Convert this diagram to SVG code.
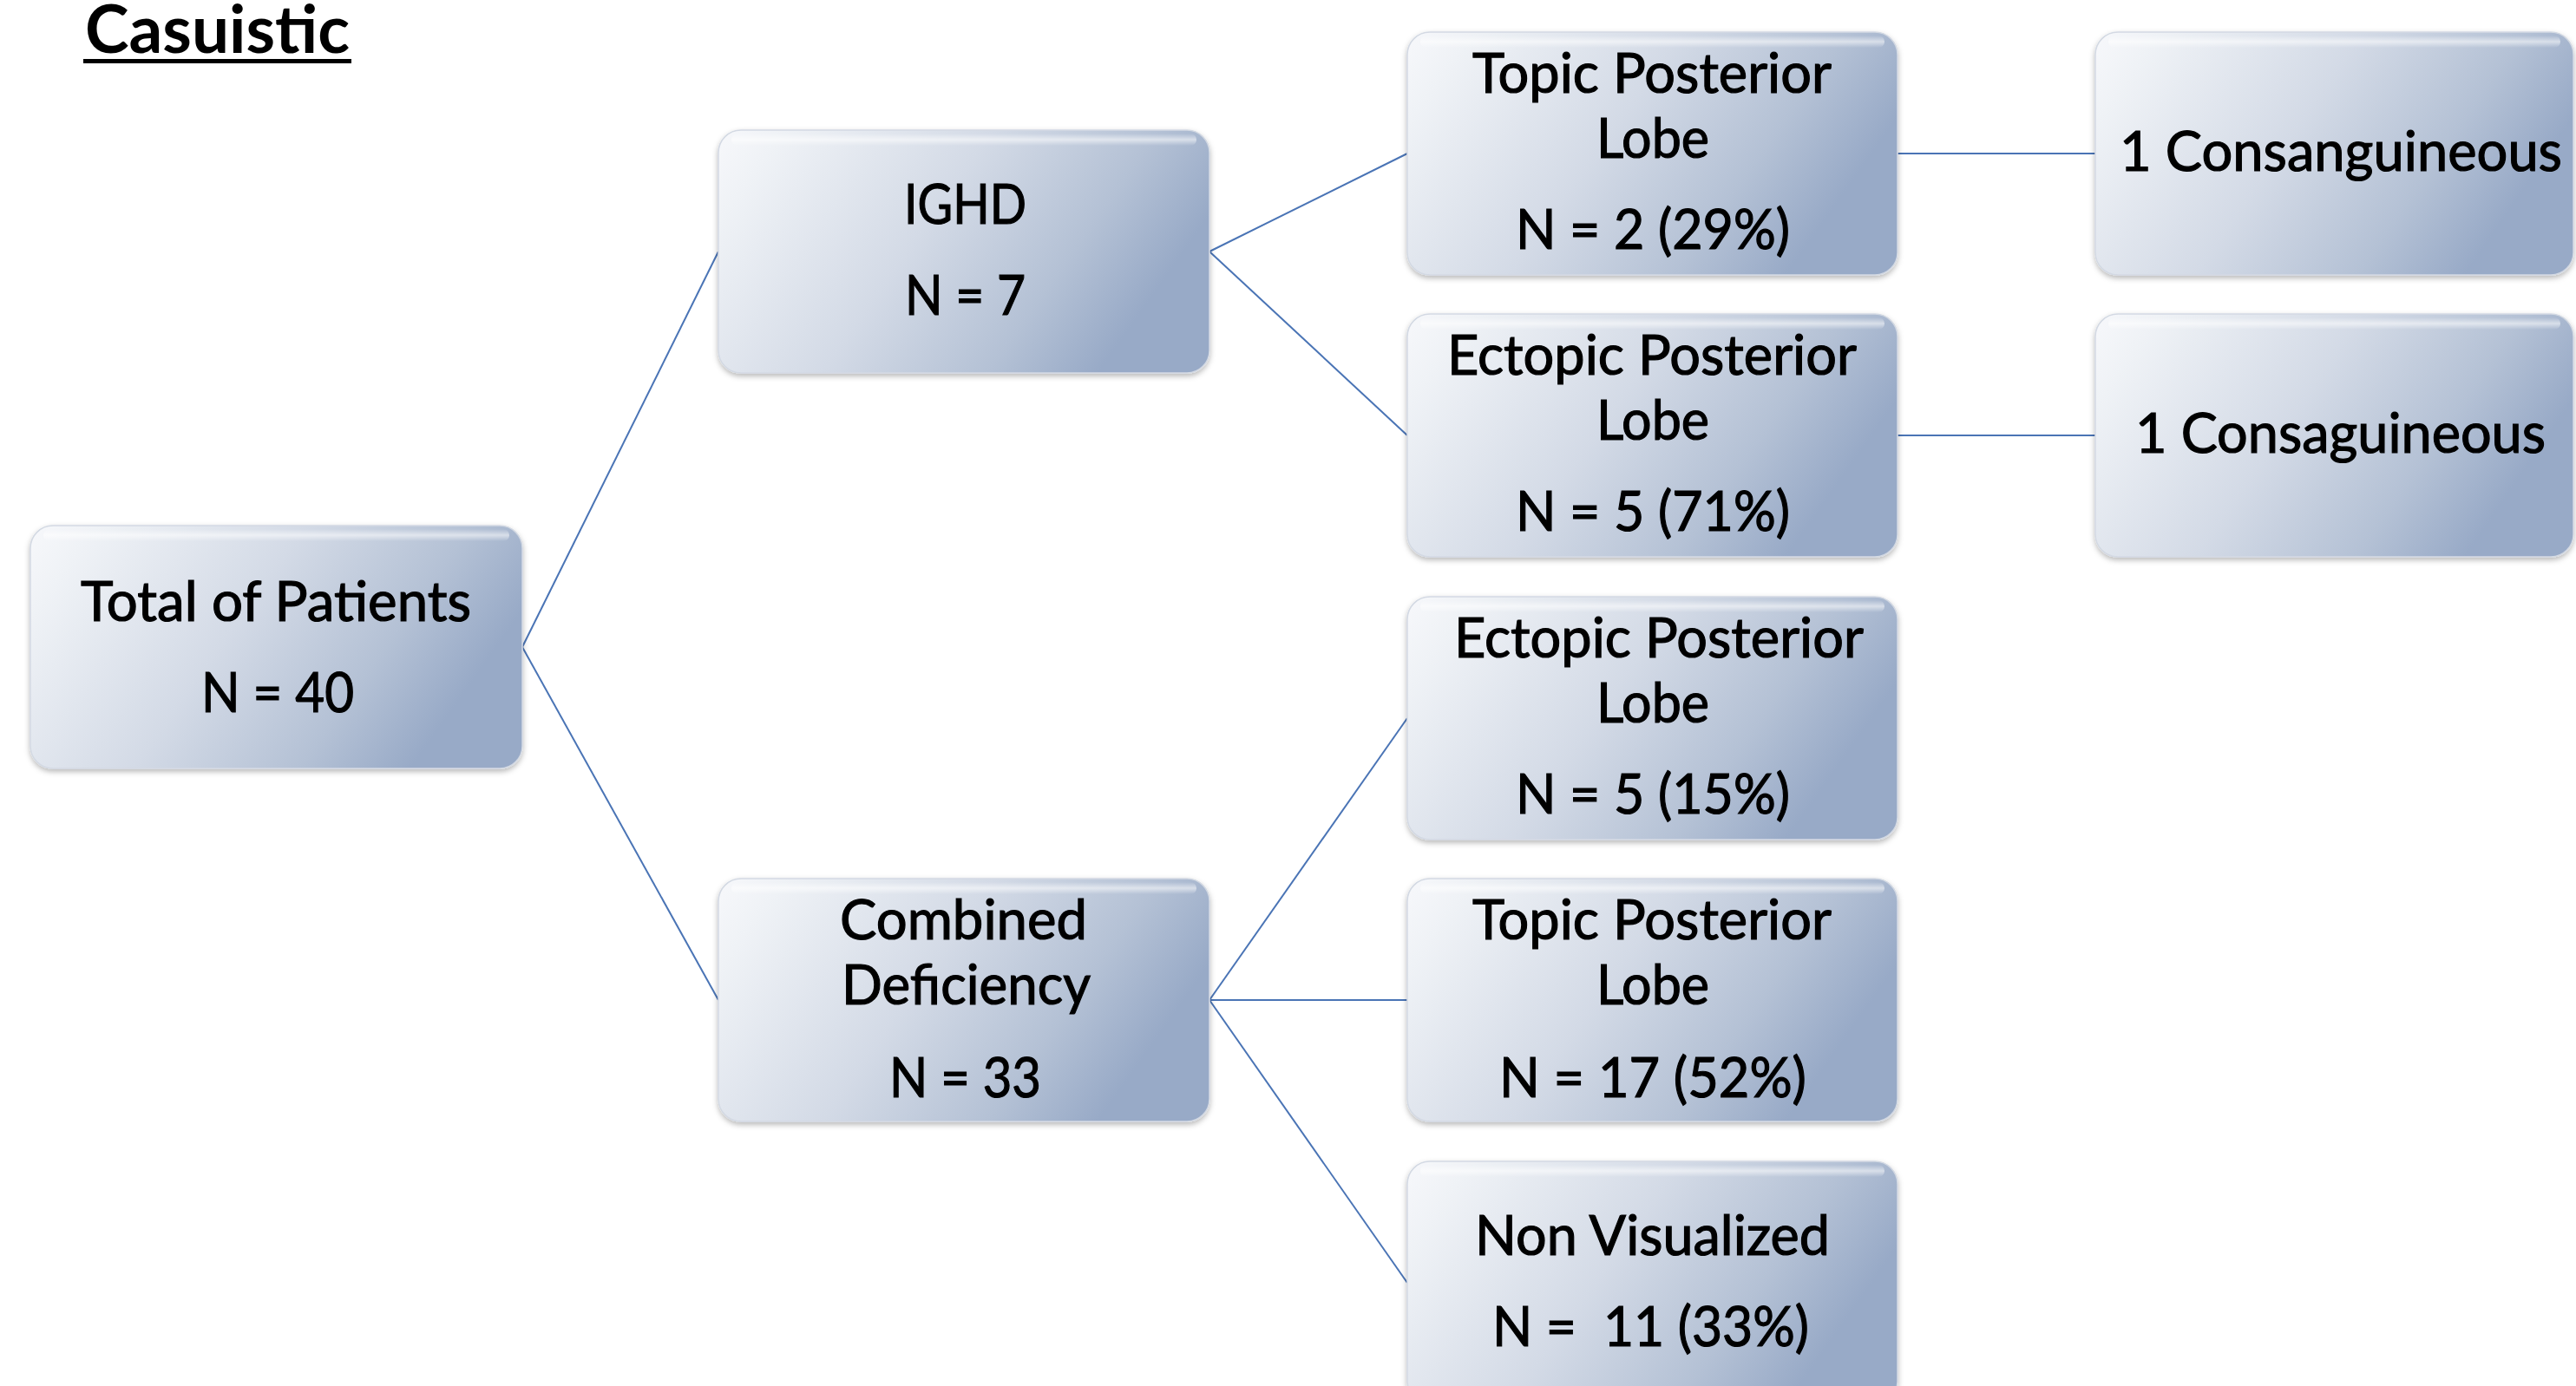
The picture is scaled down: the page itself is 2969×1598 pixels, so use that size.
<svg xmlns="http://www.w3.org/2000/svg" width="2969" height="1598" viewBox="0 0 2969 1598">
  <defs>
    <linearGradient id="boxfill" x1="0" y1="0" x2="1" y2="0.35">
      <stop offset="0" stop-color="#f7f8fb"/>
      <stop offset="0.12" stop-color="#eff2f6"/>
      <stop offset="0.5" stop-color="#d3dae6"/>
      <stop offset="0.8" stop-color="#b4c1d5"/>
      <stop offset="1" stop-color="#98aac7"/>
    </linearGradient>
    <linearGradient id="hl" x1="0" y1="0" x2="0" y2="1">
      <stop offset="0" stop-color="#ffffff" stop-opacity="0.0"/>
      <stop offset="0.5" stop-color="#ffffff" stop-opacity="0.55"/>
      <stop offset="1" stop-color="#ffffff" stop-opacity="0.0"/>
    </linearGradient>
    <filter id="shadow" x="-5%" y="-5%" width="110%" height="115%">
      <feDropShadow dx="0" dy="3" stdDeviation="3" flood-color="#000000" flood-opacity="0.28"/>
    </filter>
  </defs>
  <style>
    .box { fill: url(#boxfill); stroke: #d3d9e3; stroke-width: 1.5; filter: url(#shadow); }
    .hl { fill: url(#hl); }
    .t { font-family: Lato, "Liberation Sans", sans-serif; font-size: 64px; fill: #000000; stroke: #000000; stroke-width: 1.2px; }
    .title { font-family: Lato, "Liberation Sans", sans-serif; font-size: 76px; font-weight: bold; fill: #000000; }
    .conn line { stroke: #4a74b5; stroke-width: 2; fill: none; }
  </style>
  <rect x="0" y="0" width="2969" height="1598" fill="#ffffff"/>

  <g id="title">
    <text class="title" x="98" y="61" textLength="305" lengthAdjust="spacingAndGlyphs">Casuistic</text>
    <rect x="96" y="68" width="309" height="5" fill="#000000"/>
  </g>

  <g id="connectors" class="conn">
    <line x1="602" y1="746" x2="828" y2="290"/>
    <line x1="602" y1="746" x2="828" y2="1153"/>
    <line x1="1394" y1="290" x2="1622" y2="177"/>
    <line x1="1394" y1="290" x2="1622" y2="502"/>
    <line x1="1394" y1="1153" x2="1622" y2="828"/>
    <line x1="1394" y1="1153" x2="1622" y2="1153"/>
    <line x1="1394" y1="1153" x2="1622" y2="1479"/>
    <line x1="2187" y1="177" x2="2415" y2="177"/>
    <line x1="2187" y1="502" x2="2415" y2="502"/>
  </g>

  <g id="node-total">
    <rect class="box" x="35" y="606" width="567" height="280" rx="26"/>
    <rect class="hl" x="50" y="610" width="537" height="14" rx="7"/>
    <text class="t" x="93" y="716" textLength="450" lengthAdjust="spacingAndGlyphs">Total of Patients</text>
    <text class="t" x="232" y="821" textLength="176" lengthAdjust="spacingAndGlyphs">N = 40</text>
  </g>

  <g id="node-ighd">
    <rect class="box" x="828" y="150" width="566" height="280" rx="26"/>
    <rect class="hl" x="843" y="154" width="536" height="14" rx="7"/>
    <text class="t" x="1042" y="258" textLength="141" lengthAdjust="spacingAndGlyphs">IGHD</text>
    <text class="t" x="1043" y="363" textLength="139" lengthAdjust="spacingAndGlyphs">N = 7</text>
  </g>

  <g id="node-combined">
    <rect class="box" x="828" y="1013" width="566" height="280" rx="26"/>
    <rect class="hl" x="843" y="1017" width="536" height="14" rx="7"/>
    <text class="t" x="968" y="1083" textLength="285" lengthAdjust="spacingAndGlyphs">Combined</text>
    <text class="t" x="970" y="1158" textLength="287" lengthAdjust="spacingAndGlyphs">Deficiency</text>
    <text class="t" x="1025" y="1265" textLength="175" lengthAdjust="spacingAndGlyphs">N = 33</text>
  </g>

  <g id="node-topic1">
    <rect class="box" x="1622" y="37" width="565" height="280" rx="26"/>
    <rect class="hl" x="1637" y="41" width="535" height="14" rx="7"/>
    <text class="t" x="1697" y="107" textLength="414" lengthAdjust="spacingAndGlyphs">Topic Posterior</text>
    <text class="t" x="1840" y="182" textLength="130" lengthAdjust="spacingAndGlyphs">Lobe</text>
    <text class="t" x="1747" y="287" textLength="316" lengthAdjust="spacingAndGlyphs">N = 2 (29%)</text>
  </g>

  <g id="node-ectopic1">
    <rect class="box" x="1622" y="362" width="565" height="280" rx="26"/>
    <rect class="hl" x="1637" y="366" width="535" height="14" rx="7"/>
    <text class="t" x="1668" y="432" textLength="472" lengthAdjust="spacingAndGlyphs">Ectopic Posterior</text>
    <text class="t" x="1840" y="507" textLength="130" lengthAdjust="spacingAndGlyphs">Lobe</text>
    <text class="t" x="1747" y="612" textLength="316" lengthAdjust="spacingAndGlyphs">N = 5 (71%)</text>
  </g>

  <g id="node-ectopic2">
    <rect class="box" x="1622" y="688" width="565" height="280" rx="26"/>
    <rect class="hl" x="1637" y="692" width="535" height="14" rx="7"/>
    <text class="t" x="1676" y="758" textLength="472" lengthAdjust="spacingAndGlyphs">Ectopic Posterior</text>
    <text class="t" x="1840" y="833" textLength="130" lengthAdjust="spacingAndGlyphs">Lobe</text>
    <text class="t" x="1747" y="938" textLength="316" lengthAdjust="spacingAndGlyphs">N = 5 (15%)</text>
  </g>

  <g id="node-topic2">
    <rect class="box" x="1622" y="1013" width="565" height="280" rx="26"/>
    <rect class="hl" x="1637" y="1017" width="535" height="14" rx="7"/>
    <text class="t" x="1697" y="1083" textLength="414" lengthAdjust="spacingAndGlyphs">Topic Posterior</text>
    <text class="t" x="1840" y="1158" textLength="130" lengthAdjust="spacingAndGlyphs">Lobe</text>
    <text class="t" x="1728" y="1265" textLength="354" lengthAdjust="spacingAndGlyphs">N = 17 (52%)</text>
  </g>

  <g id="node-nonvisualized">
    <rect class="box" x="1622" y="1339" width="565" height="280" rx="26"/>
    <rect class="hl" x="1637" y="1343" width="535" height="14" rx="7"/>
    <text class="t" x="1700" y="1447" textLength="409" lengthAdjust="spacingAndGlyphs">Non Visualized</text>
    <text class="t" x="1720" y="1552" textLength="365" lengthAdjust="spacingAndGlyphs" style="white-space:pre">N =  11 (33%)</text>
  </g>

  <g id="node-consanguineous">
    <rect class="box" x="2415" y="37" width="551" height="280" rx="26"/>
    <rect class="hl" x="2430" y="41" width="521" height="14" rx="7"/>
    <text class="t" x="2443" y="197" textLength="510" lengthAdjust="spacingAndGlyphs">1 Consanguineous</text>
  </g>

  <g id="node-consaguineous">
    <rect class="box" x="2415" y="362" width="551" height="280" rx="26"/>
    <rect class="hl" x="2430" y="366" width="521" height="14" rx="7"/>
    <text class="t" x="2461" y="522" textLength="473" lengthAdjust="spacingAndGlyphs">1 Consaguineous</text>
  </g>
</svg>
